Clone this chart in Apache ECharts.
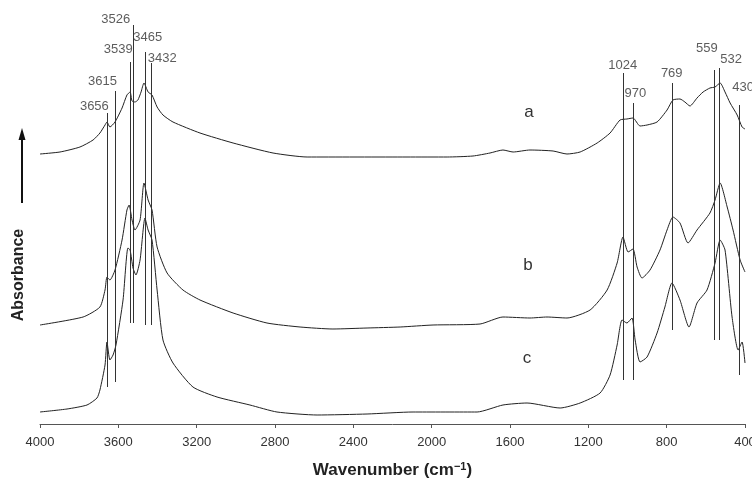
<!DOCTYPE html>
<html>
<head>
<meta charset="utf-8">
<title>IR spectra a, b, c</title>
<script src="https://cdn.jsdelivr.net/npm/echarts@6.0.0/dist/echarts.min.js"></script>
<style>
  html, body { margin: 0; padding: 0; background: #fff; }
  #main { width: 752px; height: 480px; }
</style>
</head>
<body>
<div id="main"></div>
<script>
// spectra as [wavenumber, absorbance (offset, arbitrary units)]
const curveA = [
  [4000, 2.70], [3898, 2.72], [3796, 2.77], [3729, 2.84], [3694, 2.91], [3668, 2.99],
  [3658, 3.02], [3643, 2.97], [3617, 3.02], [3581, 3.16], [3556, 3.29], [3540, 3.32],
  [3530, 3.23], [3515, 3.22], [3500, 3.24], [3484, 3.32], [3469, 3.41], [3448, 3.32],
  [3428, 3.29], [3402, 3.17], [3372, 3.09], [3321, 3.02], [3183, 2.91], [3014, 2.81],
  [2810, 2.71], [2636, 2.67], [2126, 2.67], [1921, 2.67], [1789, 2.68], [1702, 2.71],
  [1636, 2.74], [1584, 2.72], [1498, 2.74], [1380, 2.73], [1309, 2.70], [1242, 2.72],
  [1155, 2.81], [1089, 2.91], [1038, 3.04], [1003, 3.05], [972, 3.06], [936, 2.98],
  [900, 2.99], [849, 3.02], [798, 3.14], [768, 3.24], [732, 3.25], [707, 3.22],
  [681, 3.18], [645, 3.26], [614, 3.32], [579, 3.36], [553, 3.37], [527, 3.41],
  [502, 3.32], [476, 3.21], [440, 3.09], [415, 2.97], [400, 2.95]
];
const curveB = [
  [4000, 0.99], [3780, 1.07], [3694, 1.17], [3668, 1.34], [3658, 1.47], [3643, 1.44],
  [3617, 1.54], [3581, 1.84], [3556, 2.14], [3545, 2.19], [3530, 2.04], [3515, 1.94],
  [3489, 2.04], [3469, 2.41], [3448, 2.24], [3428, 2.14], [3402, 1.77], [3351, 1.51],
  [3270, 1.34], [3183, 1.24], [3014, 1.11], [2841, 1.01], [2672, 0.97], [2504, 0.95],
  [2330, 0.96], [2161, 0.97], [1993, 0.99], [1753, 1.00], [1636, 1.07], [1498, 1.06],
  [1411, 1.07], [1309, 1.06], [1191, 1.14], [1104, 1.34], [1053, 1.61], [1023, 1.87],
  [997, 1.72], [972, 1.75], [951, 1.57], [926, 1.46], [885, 1.54], [834, 1.74],
  [798, 1.94], [768, 2.07], [732, 2.01], [691, 1.81], [645, 1.94], [579, 2.11],
  [553, 2.24], [527, 2.41], [491, 2.17], [461, 1.94], [425, 1.64], [400, 1.52]
];
const curveC = [
  [4000, 0.12], [3862, 0.15], [3760, 0.19], [3709, 0.26], [3694, 0.34], [3668, 0.59],
  [3658, 0.82], [3643, 0.64], [3627, 0.69], [3612, 0.79], [3576, 1.24], [3551, 1.76],
  [3540, 1.74], [3525, 1.56], [3510, 1.49], [3489, 1.64], [3464, 2.06], [3448, 1.94],
  [3428, 1.84], [3402, 1.34], [3372, 0.84], [3321, 0.61], [3219, 0.37], [3096, 0.27],
  [2928, 0.19], [2790, 0.12], [2585, 0.09], [2330, 0.10], [2095, 0.12], [1768, 0.12],
  [1636, 0.19], [1513, 0.21], [1344, 0.16], [1242, 0.21], [1140, 0.31], [1089, 0.49],
  [1053, 0.79], [1028, 1.04], [1003, 1.01], [977, 1.06], [961, 0.84], [936, 0.62],
  [900, 0.67], [849, 0.91], [809, 1.17], [773, 1.41], [732, 1.24], [686, 0.97],
  [645, 1.21], [594, 1.34], [553, 1.61], [527, 1.84], [502, 1.74], [466, 1.07],
  [435, 0.74], [415, 0.82], [400, 0.61]
];

// marked bands: position, top and bottom of the drop line
const peaks      = [3656, 3615, 3539, 3526, 3465, 3432, 1024, 970, 769, 559, 532, 430];
const peakTop    = [3.11, 3.33, 3.62, 3.99, 3.72, 3.61, 3.51, 3.21, 3.41, 3.54, 3.56, 3.19];
const peakBottom = [0.37, 0.42, 1.01, 1.01, 0.99, 0.99, 0.44, 0.44, 0.94, 0.84, 0.84, 0.49];

// curve names and where they are written
const curveNames = ['a', 'b', 'c'];
const curveNameAt = [[1503, 3.12], [1508, 1.59], [1513, 0.66]];

const xTicks = [4000, 3600, 3200, 2800, 2400, 2000, 1600, 1200, 800, 400];

// label offsets (px) relative to the top of each drop line
const labelShift = [[-13, -7], [-13, -10], [-12, -13], [-17, -6], [3, -15], [11, -5],
                    [0, -8], [2, -10], [-1, -10], [-7, -22], [12, -9], [4, -18]];

const FONT = '"Liberation Sans", Arial, sans-serif';
const INK = '#222';

var chart = echarts.init(document.getElementById('main'));

function curve(data, i) {
  return {
    type: 'line',
    data: data,
    showSymbol: false,
    smooth: 0.2,
    lineStyle: { color: INK, width: 1 },
    z: 3,
    markPoint: {
      symbolSize: 0,
      silent: true,
      label: { show: true, formatter: curveNames[i], color: '#333', fontSize: 17, fontFamily: FONT },
      data: [{ coord: curveNameAt[i] }]
    }
  };
}

var option = {
  animation: false,
  backgroundColor: '#fff',
  grid: { left: 40, right: 7, top: 0, bottom: 56, outerBoundsMode: 'none', containLabel: false },
  xAxis: {
    type: 'value',
    inverse: true,
    min: 400,
    max: 4000,
    interval: 400,
    name: 'Wavenumber (cm{sup|−1})',
    nameLocation: 'middle',
    nameGap: 37,
    nameTextStyle: {
      fontFamily: FONT, fontSize: 17, fontWeight: 'bold', color: '#222',
      rich: { sup: { fontSize: 11, fontWeight: 'bold', verticalAlign: 'top', padding: [0, 0, 7, 0] } }
    },
    axisLine: { lineStyle: { color: '#555', width: 1 } },
    axisTick: { length: 4, lineStyle: { color: '#555' } },
    axisLabel: {
      margin: 12, fontSize: 13, color: '#333', fontFamily: FONT,
      customValues: xTicks,
      formatter: (v) => String(v)
    },
    splitLine: { show: false }
  },
  yAxis: {
    type: 'value',
    min: 0,
    max: 4.24,
    show: false
  },
  series: [
    curve(curveA, 0),
    curve(curveB, 1),
    curve(curveC, 2),
    {
      type: 'line',
      data: [],
      markLine: {
        silent: true,
        symbol: ['none', 'none'],
        label: { show: false },
        lineStyle: { color: '#333', width: 1, type: 'solid' },
        data: peaks.map((p, i) => [{ coord: [p, peakTop[i]] }, { coord: [p, peakBottom[i]] }])
      }
    },
    {
      type: 'scatter',
      symbolSize: 0,
      silent: true,
      data: peaks.map((p, i) => ({
        value: [p, peakTop[i]],
        label: { offset: labelShift[i] }
      })),
      label: {
        show: true,
        position: 'inside',
        formatter: (d) => String(d.value[0]),
        color: '#333',
        fontSize: 13,
        fontFamily: FONT
      }
    }
  ],
  graphic: [
    {
      type: 'text',
      x: 19, y: 275,
      rotation: Math.PI / 2,
      style: {
        text: 'Absorbance', font: 'bold 16px ' + FONT, fill: '#222',
        textAlign: 'center', textVerticalAlign: 'middle'
      }
    },
    {
      type: 'line',
      shape: { x1: 22, y1: 203, x2: 22, y2: 138 },
      style: { stroke: '#111', lineWidth: 2 }
    },
    {
      type: 'polygon',
      shape: { points: [[22, 128], [18.5, 140], [25.5, 140]] },
      style: { fill: '#111' }
    }
  ]
};

chart.setOption(option);
</script>
</body>
</html>
